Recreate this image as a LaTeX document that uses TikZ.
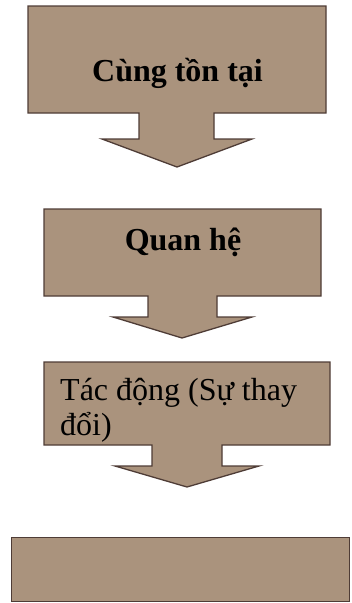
\documentclass[tikz,border=0pt]{standalone}
\usepackage{fontspec}
\setmainfont{Liberation Serif}
\definecolor{boxfill}{RGB}{170,147,125}
\definecolor{boxline}{RGB}{78,60,54}
\begin{document}
\begin{tikzpicture}[x=1pt,y=-1pt,
  blockarrow/.style={fill=boxfill,draw=boxline,line width=1.3pt,line join=miter},
  boldlabel/.style={font=\fontsize{32}{36}\selectfont\bfseries,anchor=base,inner sep=0pt},
  plainlabel/.style={font=\fontsize{32}{35}\selectfont,anchor=base west,inner sep=0pt,align=left}]
\useasboundingbox (0,0) rectangle (352,603);
% shape 1
\draw[blockarrow] (28,6) -- (326,6) -- (326,113) -- (214,113) -- (214,139) -- (252,139)
  -- (177,167) -- (102,139) -- (139,139) -- (139,113) -- (28,113) -- cycle;
\node[boldlabel] (t1) at (177.5,81) {Cùng tồn tại};
% shape 2
\draw[blockarrow] (44,209) -- (321,209) -- (321,296) -- (217,296) -- (217,317) -- (252,317)
  -- (182,338) -- (113,317) -- (148,317) -- (148,296) -- (44,296) -- cycle;
\node[boldlabel] (t2) at (183,250) {Quan hệ};
% shape 3
\draw[blockarrow] (44,362) -- (330,362) -- (330,445) -- (222,445) -- (222,466) -- (259,466)
  -- (187,487) -- (115,466) -- (152,466) -- (152,445) -- (44,445) -- cycle;
\node[plainlabel] (t3) at (60,435) {Tác động (Sự thay\\đổi)};
% box 4
\node[fill=boxfill,draw=boxline,line width=1.3pt,minimum width=338pt,minimum height=64pt,inner sep=0pt,anchor=north west] (b4) at (11,537) {};
\end{tikzpicture}
\end{document}
